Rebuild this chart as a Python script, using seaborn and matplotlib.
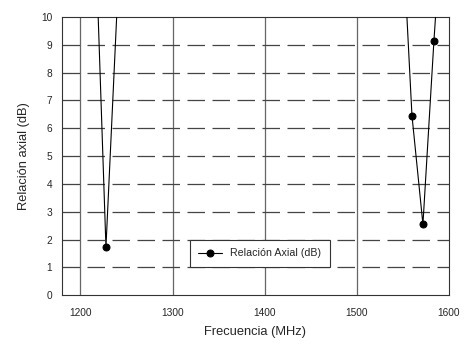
import matplotlib
matplotlib.use("Agg")
import matplotlib.pyplot as plt
import seaborn as sns
import numpy as np
import pandas as pd

# Data (points beyond 10 dB are clipped by the axes)
frecuencia = [1210, 1227.7, 1250, 1550, 1559.8, 1571.7, 1583.6, 1590]
relacion_axial = [19.1, 1.73, 17.6, 12.8, 6.46, 2.55, 9.12, 12.3]
x_ticks = [1200, 1300, 1400, 1500, 1600]
y_ticks = list(range(0, 11))

sns.set_theme(style="white")
plt.rcParams['font.family'] = ['Liberation Sans', 'DejaVu Sans']

df = pd.DataFrame({'Frecuencia': frecuencia, 'RA': relacion_axial})

fig = plt.figure(figsize=(4.71, 3.54), dpi=100)
ax = fig.add_axes([62 / 471, 1 - 295.3 / 354, 387 / 471, 278.3 / 354])

# grid: solid vertical, dashed horizontal
for xv in x_ticks[:-1]:
    ax.axvline(xv, color='#666666', lw=0.9, zorder=1)
for yv in y_ticks[1:-1]:
    ax.axhline(yv, color='#444444', lw=0.9, dashes=(14, 6), zorder=1)

sns.lineplot(data=df, x='Frecuencia', y='RA', ax=ax, sort=False,
             color='black', lw=0.8, marker='o', markersize=5,
             markeredgecolor='black', markerfacecolor='black',
             label='Relación Axial (dB)', zorder=3)

ax.set_xlim(1180, 1600)
ax.set_ylim(0, 10)
ax.set_xticks(x_ticks)
ax.set_yticks(y_ticks)
ax.tick_params(axis='both', direction='out', length=4, width=0.8,
               color='#333333', labelsize=7.3, pad=3)
ax.tick_params(axis='x', pad=5)
for sp in ax.spines.values():
    sp.set_color('#333333')
    sp.set_linewidth(0.8)

ax.set_xlabel('Frecuencia (MHz)', fontsize=9.3, labelpad=6)
ax.set_ylabel('Relación axial (dB)', fontsize=9.3, labelpad=8)

leg = ax.legend(loc='center', bbox_to_anchor=(0.511, 0.151), fontsize=7.7,
                frameon=True, fancybox=False, framealpha=1,
                edgecolor='#333333', handlelength=2.2, borderpad=0.8)
leg.get_frame().set_linewidth(0.8)

fig.savefig('out.png', dpi=100)
